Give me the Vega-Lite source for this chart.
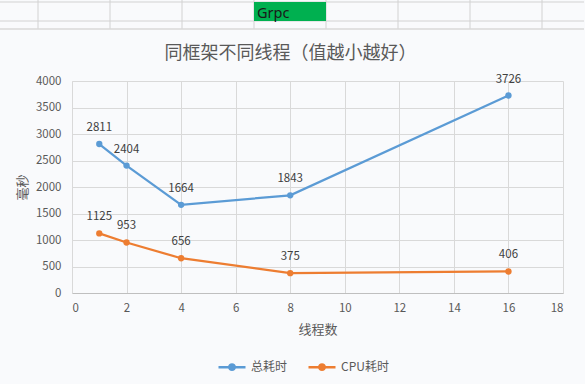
{
  "$schema": "https://vega.github.io/schema/vega-lite/v6.json",
  "width": 491,
  "height": 212,
  "autosize": {"type": "none"},
  "padding": {"left": 72, "top": 81, "right": 22, "bottom": 91},
  "background": "#f9fafc",
  "title": {
    "text": "同框架不同线程（值越小越好）",
    "font": "Noto Sans CJK SC",
    "fontSize": 18,
    "fontWeight": "normal",
    "color": "#595959",
    "anchor": "middle",
    "baseline": "middle",
    "dx": -27,
    "offset": -72
  },
  "config": {
    "view": {"stroke": null},
    "font": "Noto Sans CJK SC",
    "axis": {
      "labelFont": "Noto Sans CJK SC",
      "labelFontSize": 11.5,
      "labelColor": "#595959",
      "titleFont": "Noto Sans CJK SC",
      "titleFontSize": 13,
      "titleFontWeight": "normal",
      "titleColor": "#595959",
      "gridColor": "#d9d9d9",
      "gridWidth": 1,
      "ticks": false,
      "domainColor": "#d9d9d9"
    },
    "legend": {
      "labelFont": "Noto Sans CJK SC",
      "labelFontSize": 12,
      "labelColor": "#595959"
    }
  },
  "datasets": {
    "timing": [
      {"threads": 1, "series": "总耗时", "ms": 2811},
      {"threads": 2, "series": "总耗时", "ms": 2404},
      {"threads": 4, "series": "总耗时", "ms": 1664},
      {"threads": 8, "series": "总耗时", "ms": 1843},
      {"threads": 16, "series": "总耗时", "ms": 3726},
      {"threads": 1, "series": "CPU耗时", "ms": 1125},
      {"threads": 2, "series": "CPU耗时", "ms": 953},
      {"threads": 4, "series": "CPU耗时", "ms": 656},
      {"threads": 8, "series": "CPU耗时", "ms": 375},
      {"threads": 16, "series": "CPU耗时", "ms": 406}
    ],
    "sheetCols": [
      {"k": 0}, {"k": 1}, {"k": 2}, {"k": 3}, {"k": 4}, {"k": 5}, {"k": 6}, {"k": 7}
    ],
    "sheetRows": [
      {"r": 0}, {"r": 1}
    ],
    "sheetCells": [
      {"col": 3, "colEnd": 4, "row": 0, "rowEnd": 1, "text": "Grpc"}
    ]
  },
  "layer": [
    {
      "layer": [
        {
          "data": {"name": "sheetCols"},
          "mark": {"type": "rule", "color": "#d2d2d2", "strokeWidth": 1},
          "encoding": {
            "x": {"field": "k", "type": "quantitative", "axis": null,
                  "scale": {"domain": [-0.5278, 7.5833], "range": [-72, 512], "clamp": true, "nice": false, "zero": false}},
            "y": {"datum": -5, "type": "quantitative", "axis": null,
                  "scale": {"domain": [-0.10526, 1.42105], "range": [-81, -52], "clamp": true, "nice": false, "zero": false}},
            "y2": {"datum": 9}
          }
        },
        {
          "data": {"name": "sheetRows"},
          "mark": {"type": "rule", "color": "#d2d2d2", "strokeWidth": 1},
          "encoding": {
            "y": {"field": "r", "type": "quantitative"},
            "x": {"datum": -5, "type": "quantitative"},
            "x2": {"datum": 20}
          }
        },
        {
          "data": {"name": "sheetCells"},
          "mark": {"type": "rect", "color": "#00B050"},
          "encoding": {
            "x": {"field": "col", "type": "quantitative"},
            "x2": {"field": "colEnd"},
            "y": {"field": "row", "type": "quantitative"},
            "y2": {"field": "rowEnd"}
          }
        },
        {
          "data": {"name": "sheetCells"},
          "mark": {"type": "text", "align": "left", "baseline": "alphabetic", "dx": 3, "dy": -3, "font": "Noto Sans", "fontSize": 14.5, "color": "#1a1a1a"},
          "encoding": {
            "x": {"field": "col", "type": "quantitative"},
            "y": {"field": "rowEnd", "type": "quantitative"},
            "text": {"field": "text"}
          }
        },
        {
          "data": {"values": [{"edge": "chart top"}]},
          "mark": {"type": "rule", "color": "#d9d9d9", "strokeWidth": 1.5},
          "encoding": {
            "y": {"datum": 9, "type": "quantitative"},
            "x": {"datum": -5, "type": "quantitative"},
            "x2": {"datum": 20}
          }
        }
      ]
    },
    {
      "data": {"name": "timing"},
      "encoding": {
        "x": {
          "field": "threads",
          "type": "quantitative",
          "scale": {"domain": [0, 18], "nice": false, "zero": false},
          "axis": {
            "orient": "bottom",
            "title": "线程数",
            "values": [0, 2, 4, 6, 8, 10, 12, 14, 16, 18],
            "grid": true,
            "labelPadding": 9,
            "titlePadding": 10,
            "domainColor": "#bfbfbf"
          }
        },
        "y": {
          "field": "ms",
          "type": "quantitative",
          "scale": {"domain": [0, 4000], "nice": false},
          "axis": {
            "orient": "left",
            "title": "毫秒",
            "format": "d",
            "values": [0, 500, 1000, 1500, 2000, 2500, 3000, 3500, 4000],
            "grid": true,
            "labelPadding": 11,
            "titlePadding": 6
          }
        },
        "color": {
          "field": "series",
          "type": "nominal",
          "scale": {"domain": ["总耗时", "CPU耗时"], "range": ["#5B9BD5", "#ED7D31"]},
          "legend": {
            "title": null,
            "orient": "none",
            "legendX": 145,
            "legendY": 271,
            "direction": "horizontal",
            "columns": 2,
            "columnPadding": 15,
            "symbolType": "M-1,0L1,0M-0.2,0A0.2,0.2,0,1,1,0.2,0A0.2,0.2,0,1,1,-0.2,0",
            "symbolSize": 729,
            "symbolStrokeWidth": 2.5,
            "labelOffset": 4,
            "encode": {
              "symbols": {"update": {"fill": {"scale": "color", "field": "value"}, "fillOpacity": {"value": 1}}}
            }
          }
        }
      },
      "layer": [
        {"mark": {"type": "line", "strokeWidth": 2.25}},
        {"mark": {"type": "circle", "size": 40, "opacity": 1}},
        {
          "mark": {"type": "text", "dy": -16, "fontSize": 11.5, "color": "#404040", "font": "Noto Sans CJK SC"},
          "encoding": {"text": {"field": "ms", "type": "quantitative", "format": "d"}, "color": {"value": "#404040"}}
        }
      ]
    }
  ],
  "resolve": {"scale": {"x": "independent", "y": "independent"}}
}
